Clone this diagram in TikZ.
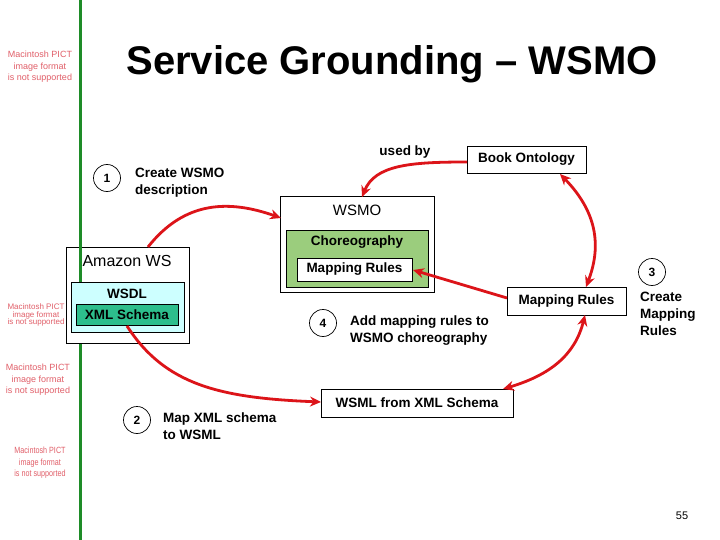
\documentclass[tikz,border=0pt]{standalone}
\usepackage{fontspec}
\setmainfont{Liberation Sans}
\usetikzlibrary{arrows.meta}
\definecolor{arrred}{RGB}{220,20,25}
\definecolor{pictred}{RGB}{225,95,105}
\definecolor{vgreen}{RGB}{30,140,40}
\definecolor{chorgreen}{RGB}{155,205,125}
\definecolor{wsdlcyan}{RGB}{205,255,255}
\definecolor{xmlgreen}{RGB}{45,190,140}
\tikzset{
  box/.style={draw=black, line width=0.8pt, inner sep=0pt},
  lbl/.style={font=\bfseries\fontsize{13.5}{17}\selectfont, inner sep=0pt, align=left},
  numc/.style={draw=black, line width=0.7pt, circle, minimum size=27pt, inner sep=0pt, font=\bfseries\fontsize{12}{14}\selectfont},
  pict/.style={text=pictred, font=\fontsize{9}{11.5}\selectfont, align=center, inner sep=0pt},
  redarr/.style={draw=arrred, line width=2.8pt, -{Stealth[length=11pt,width=10pt]}},
  redarr2/.style={draw=arrred, line width=2.8pt, {Stealth[length=11pt,width=10pt]}-{Stealth[length=11pt,width=10pt]}},
}
\begin{document}
\begin{tikzpicture}[x=1pt,y=-1pt]
\useasboundingbox (0,0) rectangle (720,540);
\fill[white] (0,0) rectangle (720,540);
% placeholder texts
\node[pict] (p1) at (40,67) {Macintosh PICT\\image format\\is not supported};
\node[pict, font=\fontsize{8}{7.5}\selectfont] (p2) at (36,315) {Macintosh PICT\\image format\\is not supported};
\node[pict] (p3) at (38,380) {Macintosh PICT\\image format\\is not supported};
\node[pict, font=\fontsize{9}{11.5}\selectfont, xscale=0.8] (p4) at (40,463) {Macintosh PICT\\image format\\is not supported};
% green line
\draw[vgreen, line width=3pt] (80,0) -- (80,540);
% title
\node[font=\bfseries\fontsize{40}{44}\selectfont, inner sep=0pt] (title) at (392,64) {Service Grounding – WSMO};
% Amazon WS
\node[box, fill=white, minimum width=123pt, minimum height=96pt] (amazon) at (127.5,295) {};
\draw[vgreen, line width=3pt] (80,247) -- (80,282);
\node[font=\fontsize{16}{18}\selectfont, inner sep=0pt] (amazonl) at (127,261) {Amazon WS};
\node[box, fill=wsdlcyan, minimum width=113pt, minimum height=50pt] (wsdl) at (127.5,307) {};
\node[lbl] (wsdll) at (127,294) {WSDL};
\node[box, fill=xmlgreen, minimum width=102pt, minimum height=21pt] (xml) at (127,314.5) {};
\node[lbl] at (xml) {XML Schema};
% WSMO
\node[box, fill=white, minimum width=154pt, minimum height=96pt] (wsmo) at (357,244.5) {};
\node[font=\fontsize{15}{17}\selectfont, inner sep=0pt] (wsmol) at (357,210) {WSMO};
\node[box, fill=chorgreen, minimum width=142pt, minimum height=57pt] (chor) at (357,258.5) {};
\node[lbl] (chorl) at (357,242) {Choreography};
\node[box, fill=white, minimum width=115pt, minimum height=23pt] (mrin) at (354.5,269.5) {};
\node[lbl] at (mrin) {Mapping Rules};
% Book Ontology
\node[box, fill=white, minimum width=119pt, minimum height=27pt] (book) at (526.5,159.5) {};
\node[lbl] at (book) {Book Ontology};
\node[lbl] (usedby) at (405,152) {used by};
% Mapping Rules right
\node[box, fill=white, minimum width=119pt, minimum height=28pt] (mrout) at (566.5,301) {};
\node[lbl] at (mrout) {Mapping Rules};
% WSML from XML Schema
\node[box, fill=white, minimum width=192pt, minimum height=28pt] (wsml) at (417,403) {};
\node[lbl] at (wsml) {WSML from XML Schema};
% numbered steps
\node[numc] (n1) at (107,178) {1};
\node[lbl, anchor=west] (t1) at (135,182.5) {Create WSMO\\description};
\node[numc] (n2) at (137,420) {2};
\node[lbl, anchor=west] (t2) at (163,426.5) {Map XML schema\\to WSML};
\node[numc] (n3) at (652,272) {3};
\node[lbl, anchor=north west] (t3) at (640,292) {Create\\Mapping\\Rules};
\node[numc] (n4) at (323,323) {4};
\node[lbl, anchor=west] (t4) at (350,330.5) {Add mapping rules to\\WSMO choreography};
% page number
\node[font=\fontsize{11}{13}\selectfont, inner sep=0pt] (pg) at (682,516) {55};
% arrows
\coordinate (bookw) at (467,162);
\coordinate (wsmon) at (362,197);
\draw[redarr] (bookw) .. controls (410,162) and (375,165) .. (wsmon);
\coordinate (amazn) at (148,247);
\coordinate (wsmow) at (281,218);
\draw[redarr] (amazn) .. controls (185,200) and (230,200) .. (wsmow);
\coordinate (books) at (560,174);
\coordinate (mroutn) at (586,287);
\draw[redarr2] (books) .. controls (600,215) and (600,250) .. (mroutn);
\coordinate (mroutw) at (507,298);
\coordinate (mrine) at (413,270);
\draw[redarr] (mroutw) -- (mrine);
\coordinate (mrouts) at (585,315);
\coordinate (wsmlne) at (503,389);
\draw[redarr2] (mrouts) .. controls (575,355) and (550,375) .. (wsmlne);
\coordinate (xmls) at (127,326);
\coordinate (wsmlw) at (321,402);
\draw[redarr] (xmls) .. controls (165,385) and (220,398) .. (wsmlw);
\end{tikzpicture}
\end{document}
